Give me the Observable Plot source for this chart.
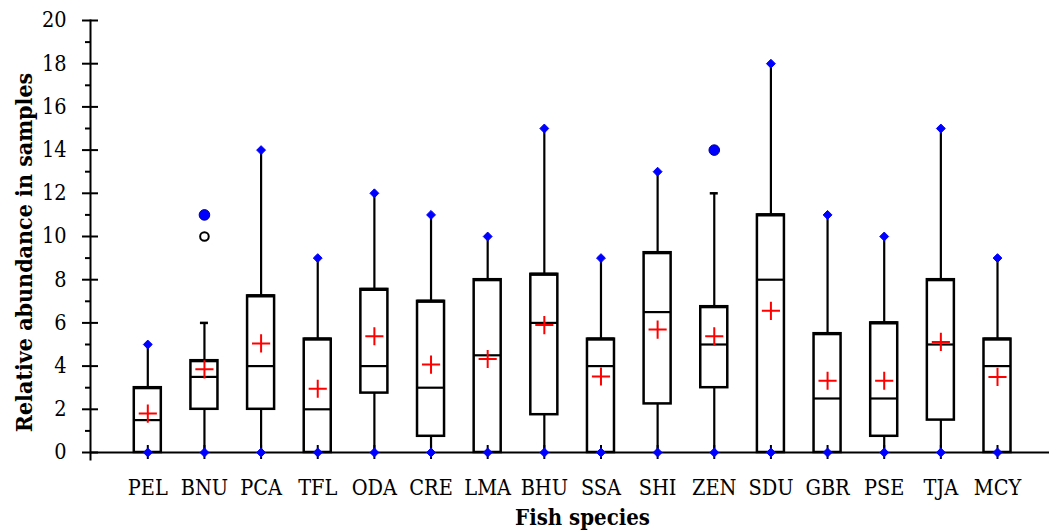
<!DOCTYPE html>
<html>
<head>
<meta charset="utf-8">
<script src="https://cdn.jsdelivr.net/npm/d3@7"></script>
<script src="https://cdn.jsdelivr.net/npm/@observablehq/plot@0.6"></script>
<style>
  html, body { margin: 0; padding: 0; background: #ffffff; }
  #chart svg { display: block; }
</style>
</head>
<body>
<div id="chart"></div>
<script>
// ---- data ----
const species    = ["PEL","BNU","PCA","TFL","ODA","CRE","LMA","BHU","SSA","SHI","ZEN","SDU","GBR","PSE","TJA","MCY"];
const minValues  = [0, 0, 0, 0, 0, 0, 0, 0, 0, 0, 0, 0, 0, 0, 0, 0];
const q1Values   = [0, 2, 2, 0, 2.75, 0.75, 0, 1.75, 0, 2.25, 3, 0, 0, 0.75, 1.5, 0];
const medValues  = [1.5, 3.5, 4, 2, 4, 3, 4.5, 6, 4, 6.5, 5, 8, 2.5, 2.5, 5, 4];
const q3Values   = [3, 4.25, 7.25, 5.25, 7.55, 7, 8, 8.25, 5.25, 9.25, 6.75, 11, 5.5, 6, 8, 5.25];
const whiskerTop = [5, 6, 14, 9, 12, 11, 10, 15, 9, 13, 12, 18, 11, 10, 15, 9];
const maxValues  = [5, 11, 14, 9, 12, 11, 10, 15, 9, 13, 14, 18, 11, 10, 15, 9];
const meanValues = [1.8, 3.85, 5.05, 2.95, 5.38, 4.07, 4.33, 5.9, 3.52, 5.69, 5.38, 6.56, 3.32, 3.32, 5.12, 3.5];
const outlierSpecies = ["BNU"];
const outlierValues  = [10];

const majorTicks = [0, 2, 4, 6, 8, 10, 12, 14, 16, 18, 20];
const minorTicks = [1, 3, 5, 7, 9, 11, 13, 15, 17, 19];
const yTitle = "Relative abundance in samples";
const xTitle = "Fish species";

// ---- tables built from the arrays ----
const rows = species.map((s, i) => ({
  species: s, min: minValues[i], q1: q1Values[i], median: medValues[i], q3: q3Values[i],
  whisker: whiskerTop[i], max: maxValues[i], mean: meanValues[i]
}));
const extremes = rows.flatMap(d => [
  {species: d.species, v: d.min},
  ...(d.max === d.whisker ? [{species: d.species, v: d.max}] : [])
]);
const capped = rows.filter(d => d.max > d.whisker);
const outliers = outlierSpecies.map((s, i) => ({species: s, v: outlierValues[i]}));

const serif = "'DejaVu Serif Condensed', 'Liberation Serif', serif";

const chart = Plot.plot({
  width: 1049,
  height: 531,
  marginTop: 20,
  marginBottom: 79,
  marginLeft: 90,
  marginRight: 0,
  style: {fontFamily: serif, fontSize: "21px", color: "black", background: "white"},
  x: {type: "band", domain: species, range: [91.3, 1053.0], paddingInner: 0.523, paddingOuter: 0.75, align: 0.5, round: false, axis: null},
  y: {domain: [0, 20], range: [452, 20], axis: null},
  marks: [
    // whiskers
    Plot.ruleX(rows, {x: "species", y1: "q3", y2: "whisker", stroke: "black", strokeWidth: 2.2}),
    Plot.ruleX(rows.filter(d => d.q1 > d.min), {x: "species", y1: "min", y2: "q1", stroke: "black", strokeWidth: 2.2}),
    Plot.tickY(capped, {x: "species", y: "whisker", insetLeft: 9.5, insetRight: 9.5, stroke: "black", strokeWidth: 2.5}),
    // boxes
    Plot.barY(rows, {x: "species", y1: "q1", y2: "q3", fill: "white", stroke: "black", strokeWidth: 2.5}),
    Plot.tickY(rows, {x: "species", y: "q3", stroke: "black", strokeWidth: 3.2}),
    Plot.tickY(rows, {x: "species", y: "median", stroke: "black", strokeWidth: 2.2}),
    // axes lines
    Plot.frame({anchor: "left", stroke: "black", strokeWidth: 2, insetBottom: -7}),
    Plot.ruleY([0], {stroke: "black", strokeWidth: 2}),
    Plot.axisY({ticks: majorTicks, tickSize: 16, dx: 8, fill: "none", stroke: "black", strokeWidth: 2, label: null}),
    Plot.axisY({ticks: minorTicks, tickSize: 5, fill: "none", stroke: "black", strokeWidth: 2, label: null}),
    Plot.axisY({ticks: majorTicks, tickSize: 0, tickPadding: 24, fontSize: 21.5, fill: "black", label: null}),
    Plot.axisX({tickSize: 14, dy: -7, fill: "none", stroke: "black", strokeWidth: 2, label: null}),
    Plot.axisX({tickSize: 0, tickPadding: 27, fontSize: 21.5, fill: "black", label: null}),
    // min / max markers
    Plot.dot(extremes, {x: "species", y: "v", symbol: "diamond2", r: 4, fill: "#0000FF", stroke: "#0000FF", strokeWidth: 1}),
    Plot.dot(outliers, {x: "species", y: "v", r: 4.3, fill: "white", stroke: "black", strokeWidth: 2}),
    Plot.dot(capped, {x: "species", y: "max", r: 5.3, fill: "#0000FF", stroke: "#00008B", strokeWidth: 1}),
    // means
    Plot.dot(rows, {x: "species", y: "mean", symbol: "plus", r: 5.9, stroke: "#FF0000", strokeWidth: 2}),
    // titles
    Plot.text([yTitle], {frameAnchor: "left", textAnchor: "middle", lineAnchor: "middle", rotate: -90, dx: -66, dy: 16, fontWeight: "bold", fontSize: 23, fill: "black"}),
    Plot.text([xTitle], {frameAnchor: "bottom", textAnchor: "middle", lineAnchor: "middle", dx: 12.5, dy: 65, fontWeight: "bold", fontSize: 22, fill: "black"})
  ]
});
document.getElementById("chart").appendChild(chart);
</script>
</body>
</html>
